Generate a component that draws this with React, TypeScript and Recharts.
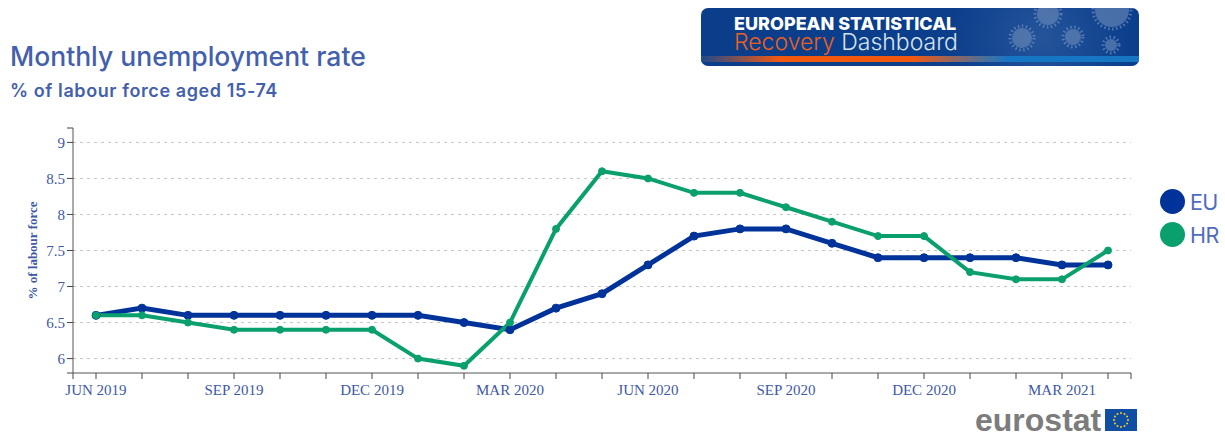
import { CartesianGrid, Legend, Line, LineChart, XAxis, YAxis } from "recharts";

const months = [
  "JUN 2019", "JUL 2019", "AUG 2019", "SEP 2019", "OCT 2019", "NOV 2019", "DEC 2019", "JAN 2020",
  "FEB 2020", "MAR 2020", "APR 2020", "MAY 2020", "JUN 2020", "JUL 2020", "AUG 2020", "SEP 2020",
  "OCT 2020", "NOV 2020", "DEC 2020", "JAN 2021", "FEB 2021", "MAR 2021", "APR 2021",
];
const euValues = [6.6, 6.7, 6.6, 6.6, 6.6, 6.6, 6.6, 6.6, 6.5, 6.4, 6.7, 6.9, 7.3, 7.7, 7.8, 7.8, 7.6, 7.4, 7.4, 7.4, 7.4, 7.3, 7.3];
const hrValues = [6.6, 6.6, 6.5, 6.4, 6.4, 6.4, 6.4, 6.0, 5.9, 6.5, 7.8, 8.6, 8.5, 8.3, 8.3, 8.1, 7.9, 7.7, 7.7, 7.2, 7.1, 7.1, 7.5];
const yTicks = [5.8, 6, 6.5, 7, 7.5, 8, 8.5, 9, 9.2];
const gridValues = [6, 6.5, 7, 7.5, 8, 8.5, 9];
const xTicks = [-0.5, ...months.map((_, i) => i), 22.5];

const table = months.map((month, i) => ({ i, month, EU: euValues[i], HR: hrValues[i] }));

const BLUE_TEXT = "#4360ad";
const AXIS_TEXT = "#4058a6";
const EU_COLOR = "#003399";
const HR_COLOR = "#0aa06e";
const SERIF = "'Liberation Serif', serif";
const SANS = "Inter, sans-serif";

function formatX(v: number) {
  return Number.isInteger(v) && v % 3 === 0 ? months[v] ?? "" : "";
}

function formatY(v: number) {
  return gridValues.includes(v) ? String(v) : "";
}

function SeriesLegend({ payload }: { payload?: { value: string; color: string }[] }) {
  return (
    <div>
      {(payload ?? []).map((p) => (
        <div key={p.value} style={{ display: "flex", alignItems: "center", height: 33 }}>
          <span style={{ width: 25, height: 25, borderRadius: "50%", background: p.color, marginRight: 5 }} />
          <span style={{ fontFamily: SANS, fontSize: 21.5, color: "#4f6cc0", letterSpacing: -0.6 }}>{p.value}</span>
        </div>
      ))}
    </div>
  );
}

function Virus({ x, y, r }: { x: number; y: number; r: number }) {
  return (
    <g>
      <circle cx={x} cy={y} r={r} fill="#6f8dbb" opacity={0.6} />
      <circle cx={x} cy={y} r={r + 2} fill="none" stroke="#7f9bc4" strokeWidth={3} strokeDasharray="1.5 2.5" opacity={0.6} />
    </g>
  );
}

function Banner() {
  return (
    <div
      style={{
        position: "absolute",
        left: 701,
        top: 8,
        width: 438,
        height: 58,
        borderRadius: 7,
        overflow: "hidden",
        background: "radial-gradient(circle at 340px 30px, #25549a 0, #0b3f8c 90px, #0a3d8a 100%)",
      }}
    >
      <svg width={438} height={58} style={{ position: "absolute", left: 0, top: 0 }}>
        <Virus x={321} y={30} r={10} />
        <Virus x={372} y={29} r={8} />
        <Virus x={410} y={37} r={6} />
        <Virus x={347} y={6} r={11} />
        <Virus x={411} y={2} r={17} />
      </svg>
      <div
        style={{
          position: "absolute",
          left: 0,
          right: 0,
          top: 48,
          height: 6,
          background: "linear-gradient(90deg, #1f4a8c 0, #f2590f 18%, #f2590f 48%, #1776c4 70%, #1776c4 100%)",
        }}
      />
      <div
        style={{
          position: "absolute",
          left: 33,
          top: 7,
          fontFamily: SANS,
          fontWeight: 800,
          fontSize: 18,
          lineHeight: "18px",
          color: "#fff",
          whiteSpace: "nowrap",
        }}
      >
        EUROPEAN STATISTICAL
      </div>
      <div
        style={{
          position: "absolute",
          left: 33,
          top: 24,
          fontFamily: SANS,
          fontWeight: 300,
          fontSize: 23,
          lineHeight: "21px",
          color: "#d8e2ee",
          whiteSpace: "nowrap",
        }}
      >
        <span style={{ color: "#e8601c" }}>Recovery</span> Dashboard
      </div>
    </div>
  );
}

function EurostatLogo() {
  const stars = Array.from({ length: 12 }, (_, i) => (i * Math.PI) / 6);
  return (
    <div style={{ position: "absolute", left: 975, top: 407, display: "flex", alignItems: "center" }}>
      <span style={{ fontFamily: "'Liberation Sans', sans-serif", fontWeight: 700, fontSize: 32, lineHeight: "26px", color: "#7c7c7c" }}>
        eurostat
      </span>
      <svg width={32} height={22} style={{ marginLeft: 4 }}>
        <rect width={32} height={22} fill="#0f4ea3" />
        {stars.map((a) => (
          <circle key={a} cx={16 + 7 * Math.cos(a)} cy={11 + 7 * Math.sin(a)} r={1} fill="#f2d31b" />
        ))}
      </svg>
    </div>
  );
}

export default function App() {
  return (
    <div style={{ position: "absolute", left: 0, top: 0, width: 1225, height: 433, overflow: "hidden", background: "#fff" }}>
      <div style={{ position: "absolute", left: 10, top: 41, fontFamily: SANS, fontWeight: 500, fontSize: 26.5, lineHeight: "30px", color: BLUE_TEXT, whiteSpace: "nowrap" }}>
        Monthly unemployment rate
      </div>
      <div style={{ position: "absolute", left: 10, top: 80, fontFamily: SANS, fontWeight: 600, fontSize: 18, lineHeight: "22px", letterSpacing: 0.6, color: BLUE_TEXT, whiteSpace: "nowrap" }}>
        % of labour force aged 15-74
      </div>
      <Banner />
      <EurostatLogo />
      <div style={{ position: "absolute", left: 0, top: 0 }}>
        <LineChart width={1225} height={433} data={table} margin={{ top: 128, right: 29, bottom: 30, left: 23 }}>
          <CartesianGrid vertical={false} horizontalValues={gridValues} stroke="#c4c4c4" strokeDasharray="3 4" />
          <XAxis
            dataKey="i"
            type="number"
            domain={[-0.5, 22.5]}
            ticks={xTicks}
            interval={0}
            height={30}
            tickFormatter={formatX}
            tick={{ fill: AXIS_TEXT, fontSize: 15, fontFamily: SERIF }}
            tickSize={6}
            tickMargin={5}
            tickLine={{ stroke: "#444" }}
            axisLine={{ stroke: "#555" }}
          />
          <YAxis
            type="number"
            domain={[5.8, 9.2]}
            ticks={yTicks}
            interval={0}
            width={50}
            tickFormatter={formatY}
            tick={{ fill: AXIS_TEXT, fontSize: 15, fontFamily: SERIF }}
            tickSize={6}
            tickLine={{ stroke: "#444" }}
            axisLine={{ stroke: "#555" }}
            label={{
              value: "% of labour force",
              angle: -90,
              position: "insideLeft",
              offset: 9,
              style: { fill: AXIS_TEXT, fontSize: 13, fontWeight: 700, fontFamily: SERIF, textAnchor: "middle" },
            }}
          />
          <Legend
            layout="vertical"
            verticalAlign="top"
            align="right"
            wrapperStyle={{ left: 1160, top: 185, width: 65, right: "auto" }}
            content={(props: any) => <SeriesLegend payload={props.payload} />}
          />
          <Line
            dataKey="EU"
            stroke={EU_COLOR}
            strokeWidth={5}
            dot={{ r: 4, fill: EU_COLOR, stroke: EU_COLOR, strokeWidth: 1 }}
            isAnimationActive={false}
          />
          <Line
            dataKey="HR"
            stroke={HR_COLOR}
            strokeWidth={4}
            dot={{ r: 3.5, fill: HR_COLOR, stroke: HR_COLOR, strokeWidth: 1 }}
            isAnimationActive={false}
          />
        </LineChart>
      </div>
    </div>
  );
}
